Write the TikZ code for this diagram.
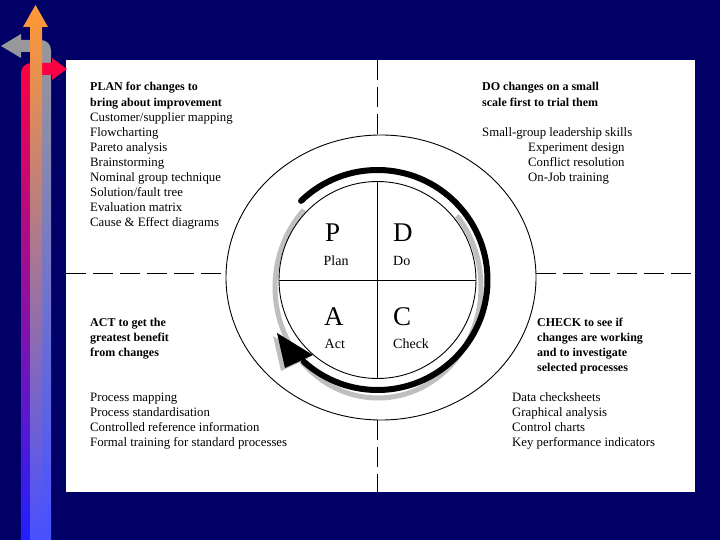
\documentclass[tikz,border=0pt]{standalone}
\usepackage{fontspec}
\setmainfont{Liberation Serif}
\usepackage{tikz}
\definecolor{slideNavy}{HTML}{000066}
\definecolor{barRed}{HTML}{FF0040}
\definecolor{barMagenta}{HTML}{C81090}
\definecolor{barBlue}{HTML}{2020FF}
\definecolor{barOrange}{HTML}{FF9933}
\definecolor{barPeach}{HTML}{E09090}
\definecolor{barLilac}{HTML}{4850FF}
\definecolor{barGray}{HTML}{999999}
\definecolor{barSteel}{HTML}{9C9CCC}
\definecolor{arcShadow}{HTML}{BFBFBF}

\begin{document}
\begin{tikzpicture}[x=1pt, y=-1pt,
    line/.style={draw=black, line width=0.9pt},
    dashline/.style={line, dash pattern=on 20pt off 7pt},
    txt/.style={inner sep=0pt, anchor=base west, align=left, font=\fontsize{12.8}{15.1}\selectfont},
    head/.style={txt, font=\fontsize{12}{15.1}\selectfont\bfseries},
    letter/.style={inner sep=0pt, anchor=base west, font=\fontsize{27}{30}\selectfont},
    word/.style={inner sep=0pt, anchor=base west, font=\fontsize{14}{16}\selectfont},
]
    \fill[slideNavy] (0,0) rectangle (720,540);
    \fill[white] (66,60) rectangle (695,492);

    \shade[top color=barGray, middle color=barSteel, bottom color=barLilac]
        (51,540) -- (51,50) .. controls (51,44.5) and (46.5,40) .. (41,40) -- (21,40)
        -- (21,34) -- (1,46) -- (21,58) -- (21,52) -- (42,52) -- (42,540) -- cycle;
    \shade[top color=barRed, middle color=barMagenta, bottom color=barBlue]
        (21,540) -- (21,73) .. controls (21,67.5) and (25.5,63) .. (31,63) -- (52,63)
        -- (52,58) -- (67,69) -- (52,80) -- (52,75) -- (30,75) -- (30,540) -- cycle;
    \shade[top color=barOrange, middle color=barPeach, bottom color=barLilac]
        (30,540) -- (30,27) -- (23,27) -- (35.5,5) -- (48,27) -- (42,27) -- (42,540) -- cycle;

    \draw[dashline] (377,60) -- (377,135);
    \draw[dashline] (377,420) -- (377,492);
    \draw[dashline] (66,273) -- (226,273);
    \draw[dashline] (536,273) -- (695,273);
    \draw[line] (381,277.5) ellipse[x radius=155, y radius=142.5];

    \draw[arcShadow, line width=5pt] (378,287) ++(-40:103 and 111)
        arc[start angle=-40, end angle=224, x radius=103, y radius=111];
    \fill[arcShadow] (273,336) -- (281,371) -- (309,358) -- cycle;
    \draw[black, line width=6pt, line cap=round] (377.5,280) ++(-134:110)
        arc[start angle=-134, end angle=132, radius=110];
    \fill[black] (277,333) -- (285,368) -- (313,355) -- cycle;

    \draw[line, fill=white] (377.5,280) circle[radius=98.5];
    \draw[line] (377.5,181.5) -- (377.5,378.5);
    \draw[line] (279,280) -- (476,280);

    \node[letter] (pLetter) at (325,241) {P};
    \node[word] (pWord) at (323.5,265) {Plan};
    \node[letter] (dLetter) at (393,241) {D};
    \node[word] (dWord) at (393,265) {Do};
    \node[letter] (aLetter) at (324,325) {A};
    \node[word] (aWord) at (324.5,348.5) {Act};
    \node[letter] (cLetter) at (393,325) {C};
    \node[word] (cWord) at (393,348.5) {Check};

    \node[head] (planHead) at (90,106.1) {PLAN for changes to\\bring about improvement};
    \node[txt] (planList) at (90,226.9) {Customer/supplier mapping\\Flowcharting\\Pareto analysis\\Brainstorming\\Nominal group technique\\Solution/fault tree\\Evaluation matrix\\Cause \& Effect diagrams};
    \node[head] (doHead) at (482,106.1) {DO changes on a small\\scale first to trial them};
    \node[txt] (doList) at (482,181.6) {Small-group leadership skills\\\hspace*{46pt}Experiment design\\\hspace*{46pt}Conflict resolution\\\hspace*{46pt}On-Job training};
    \node[head] (actHead) at (90,356.2) {ACT to get the\\greatest benefit\\from changes};
    \node[txt] (actList) at (90,446.8) {Process mapping\\Process standardisation\\Controlled reference information\\Formal training for standard processes};
    \node[head] (checkHead) at (537,371.3) {CHECK to see if\\changes are working\\and to investigate\\selected processes};
    \node[txt] (checkList) at (512,446.8) {Data checksheets\\Graphical analysis\\Control charts\\Key performance indicators};
\end{tikzpicture}
\end{document}
